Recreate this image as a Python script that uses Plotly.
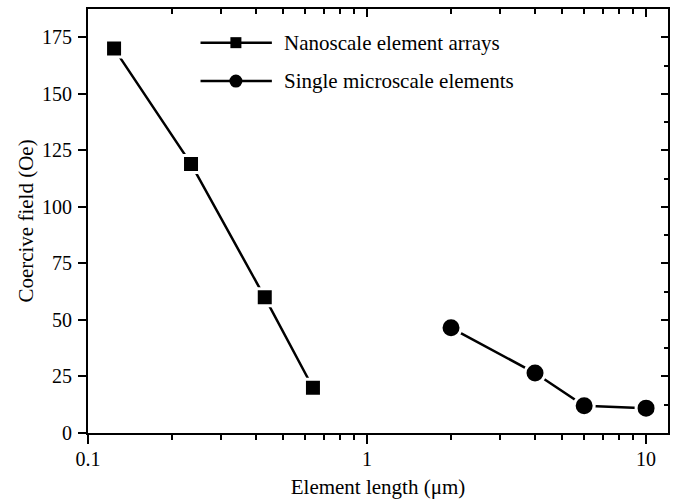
import plotly.graph_objects as go

# ---- data ----
nano_x = [0.124, 0.234, 0.43, 0.64]
nano_y = [170, 119, 60, 20]
micro_x = [2.0, 4.0, 6.0, 10.0]
micro_y = [46.5, 26.5, 12, 11]
series_names = ["Nanoscale element arrays", "Single microscale elements"]
x_title = "Element length (μm)"
y_title = "Coercive field (Oe)"
x_tickvals = [0.1, 1, 10]
x_ticktext = ["0.1", "1", "10"]
x_minor = [0.2, 0.3, 0.4, 0.5, 0.6, 0.7, 0.8, 0.9, 2, 3, 4, 5, 6, 7, 8, 9]
y_tickvals = [0, 25, 50, 75, 100, 125, 150, 175]
y_right_minor = [12.5, 37.5, 62.5, 87.5, 112.5, 137.5, 162.5]

FONT = "Liberation Serif, Times New Roman, serif"
X_RANGE = [-1, 1.0786]
Y_RANGE = [0, 187.5]

fig = go.Figure()
fig.add_trace(go.Scatter(
    x=nano_x, y=nano_y, mode="lines+markers", name=series_names[0],
    line=dict(color="black", width=2.5),
    marker=dict(symbol="square", size=17, color="black",
                line=dict(color="white", width=3)),
    showlegend=False))
fig.add_trace(go.Scatter(
    x=micro_x, y=micro_y, mode="lines+markers", name=series_names[1],
    line=dict(color="black", width=2.5),
    marker=dict(symbol="circle", size=20, color="black",
                line=dict(color="white", width=3)),
    showlegend=False))
# invisible trace to carry the mirrored (top/right) tick axes
fig.add_trace(go.Scatter(
    x=nano_x, y=nano_y, xaxis="x2", yaxis="y2", mode="markers",
    marker=dict(opacity=0), showlegend=False, hoverinfo="skip"))

fig.update_layout(
    width=677, height=501,
    margin=dict(l=88, r=9, t=9, b=68),
    paper_bgcolor="white", plot_bgcolor="white",
    font=dict(family=FONT, size=20, color="black"),
    xaxis=dict(
        type="log", range=X_RANGE, showgrid=False, zeroline=False,
        automargin=False,
        showline=True, linecolor="black", linewidth=2, mirror=True,
        tickmode="array", tickvals=x_tickvals, ticktext=x_ticktext,
        ticks="outside", ticklen=9, tickwidth=2, tickcolor="black",
        minor=dict(tickmode="array", tickvals=x_minor, ticks="outside",
                   ticklen=5, tickwidth=2, tickcolor="black", showgrid=False),
        tickfont=dict(size=20), ticklabelstandoff=-2,
        title=dict(text=x_title, font=dict(size=21), standoff=10),
    ),
    yaxis=dict(
        range=Y_RANGE, showgrid=False, zeroline=False,
        automargin=False,
        showline=True, linecolor="black", linewidth=2, mirror=True,
        tickmode="array", tickvals=y_tickvals,
        ticks="outside", ticklen=8, tickwidth=2, tickcolor="black",
        tickfont=dict(size=20), ticklabelstandoff=2,
        title=dict(text=y_title, font=dict(size=21), standoff=3),
    ),
    xaxis2=dict(
        type="log", range=X_RANGE, overlaying="x", side="top", anchor="y",
        automargin=False,
        showgrid=False, zeroline=False, showline=False, showticklabels=False,
        tickmode="array", tickvals=x_tickvals,
        ticks="inside", ticklen=8, tickwidth=2, tickcolor="black",
        minor=dict(tickmode="array", tickvals=x_minor, ticks="inside",
                   ticklen=5, tickwidth=2, tickcolor="black", showgrid=False),
    ),
    yaxis2=dict(
        range=Y_RANGE, overlaying="y", side="right", anchor="x",
        automargin=False,
        showgrid=False, zeroline=False, showline=False, showticklabels=False,
        tickmode="array", tickvals=y_tickvals,
        ticks="inside", ticklen=7, tickwidth=2, tickcolor="black",
        minor=dict(tickmode="array", tickvals=y_right_minor, ticks="inside",
                   ticklen=4, tickwidth=2, tickcolor="black", showgrid=False),
    ),
)

# ---- hand-drawn legend (wide sample lines like the reference) ----
leg_x0, leg_x1, leg_mx, leg_tx = 0.194, 0.317, 0.255, 0.334
leg_rows = [(0.9206, "square", series_names[0]), (0.830, "circle", series_names[1])]
shapes = []
annotations = []
for ly, sym, label in leg_rows:
    shapes.append(dict(type="line", xref="paper", yref="paper",
                       x0=leg_x0, x1=leg_x1, y0=ly, y1=ly,
                       line=dict(color="black", width=2.5)))
    if sym == "square":
        shapes.append(dict(type="rect", xref="paper", yref="paper",
                           xsizemode="pixel", ysizemode="pixel",
                           xanchor=leg_mx, yanchor=ly,
                           x0=-5.5, x1=5.5, y0=-5.5, y1=5.5,
                           fillcolor="black", line=dict(width=0)))
    else:
        shapes.append(dict(type="circle", xref="paper", yref="paper",
                           xsizemode="pixel", ysizemode="pixel",
                           xanchor=leg_mx, yanchor=ly,
                           x0=-6.5, x1=6.5, y0=-6.5, y1=6.5,
                           fillcolor="black", line=dict(width=0)))
    annotations.append(dict(xref="paper", yref="paper", x=leg_tx, y=ly,
                            xanchor="left", yanchor="middle", showarrow=False,
                            text=label, font=dict(size=21, family=FONT)))
fig.update_layout(shapes=shapes, annotations=annotations)

fig.write_html("out.html")
